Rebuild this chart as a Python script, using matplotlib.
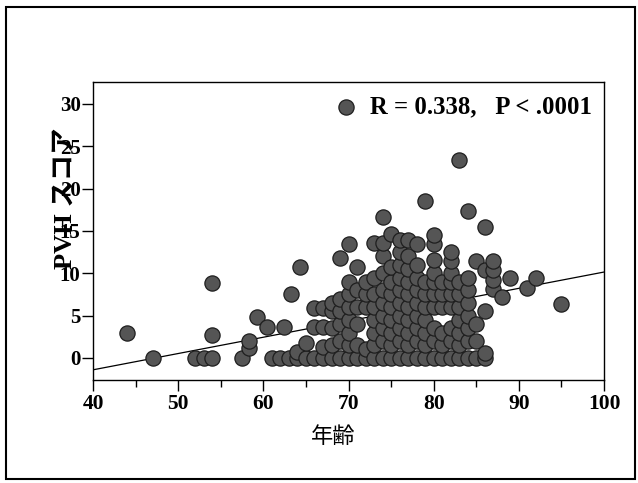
import matplotlib
matplotlib.use("Agg")
import matplotlib.pyplot as plt
import matplotlib.patches as patches
import numpy as np

plt.rcParams["font.family"] = ["Liberation Serif", "Noto Sans CJK JP", "DejaVu Sans"]

# ages -> PVH scores, one list per age column
columns = {
    44: [2.9],
    47: [0],
    52: [0],
    53: [0],
    54: [0, 2.7, 8.8],
    57.5: [0],
    58.3: [1.2, 2.0],
    59.3: [4.8],
    60.4: [3.7],
    61: [0],
    62: [0],
    62.4: [3.7],
    63: [0],
    63.3: [7.6],
    64: [0, 0.7],
    64.3: [10.7],
    65: [0, 1.8],
    66: [0, 3.7, 5.9],
    67: [0, 1.3, 3.7, 5.9],
    68: [0, 1.5, 3.5, 5.5, 6.5],
    69: [0, 2, 4, 5.5, 7, 11.8],
    70: [0, 1.5, 3, 4.5, 6, 7.5, 9, 13.5],
    71: [0, 1.5, 4, 6, 8, 10.7],
    72: [0, 1, 6, 7.5, 9],
    73: [0, 1.5, 3, 4.5, 6, 7.5, 9.5, 13.6],
    74: [0, 2, 3.5, 5, 6.5, 8, 10, 12, 13.6, 16.6],
    75: [0, 1.5, 3, 4.5, 6, 7.5, 9, 10.7, 14.7],
    76: [0, 2, 3.5, 5, 6.5, 8, 9.5, 11, 12.5, 13.9],
    77: [0, 1.5, 3, 4.5, 6, 7.5, 9, 10.5, 12, 13.9],
    78: [0, 2, 3.5, 5, 6.5, 8, 9.5, 11, 13.5],
    79: [0, 1.5, 3, 4.5, 6, 7.5, 9, 18.5],
    80: [0, 2, 3.5, 6, 7.5, 9, 10, 11.6, 13.5, 14.5],
    81: [0, 1.5, 3, 6, 7.5, 9],
    82: [0, 2, 3.5, 6, 7.5, 9, 10, 11.5, 12.5],
    83: [0, 1.5, 3, 4.5, 6, 7.5, 9, 23.4],
    84: [0, 2, 3.5, 5, 6.5, 8, 9.5, 17.4],
    85: [0, 2, 4, 11.5],
    86: [0, 0.6, 5.6, 10.4, 15.5],
    87: [8.2, 9.2, 10.4, 11.5],
    88: [7.2],
    89: [9.4],
    91: [8.3],
    92: [9.4],
    95: [6.4],
}
ages = [a for a, s in columns.items() for _ in s]
scores = [v for s in columns.values() for v in s]

# regression line ends, read at x = 40 and x = 100
fit_x = [40, 100]
fit_y = [-1.4, 10.15]

x_ticks = [40, 50, 60, 70, 80, 90, 100]
y_ticks = [0, 5, 10, 15, 20, 25, 30]
legend_text = "R = 0.338,   P < .0001"

fig = plt.figure(figsize=(6.38, 4.83), dpi=100)
ax = fig.add_axes([0.1458, 0.2133, 0.801, 0.617])

pts = ax.scatter(ages, scores, s=120, facecolor="#555555", edgecolor="#1e1e1e",
                 linewidth=0.9, zorder=3)
ax.plot(fit_x, fit_y, color="black", linewidth=0.9, zorder=2)

ax.set_xlim(40, 100)
ax.set_ylim(-2.6, 32.6)
ax.set_xticks(x_ticks)
ax.set_xticks(np.arange(45, 100, 10), minor=True)
ax.set_yticks(y_ticks)
ax.tick_params(axis="x", which="major", direction="out", length=8, width=1, pad=2,
               labelsize=15.5)
ax.tick_params(axis="x", which="minor", direction="out", length=5, width=1)
ax.tick_params(axis="y", direction="out", length=8, width=1, pad=1, labelsize=15)
for lbl in ax.get_xticklabels() + ax.get_yticklabels():
    lbl.set_fontweight("bold")
for sp in ax.spines.values():
    sp.set_linewidth(1.0)

# the scan has this label printed over the 20 / 25 tick labels
ax.text(-0.054, 0.61, "PVH スコア", transform=ax.transAxes, rotation=90,
        ha="center", va="center", fontsize=19, fontweight="bold")
ax.text(0.47, -0.19, "年齢", transform=ax.transAxes, ha="center", va="center",
        fontsize=16, family=["Noto Sans CJK JP"])

ax.legend([pts], [legend_text], loc="center left", bbox_to_anchor=(0.4716, 0.916),
          frameon=False, borderpad=0, borderaxespad=0, handlelength=1,
          handletextpad=0.45, prop={"size": 17.8, "weight": "bold"})

fig.patches.append(patches.Rectangle((6 / 638, 4 / 483), 629 / 638, 472 / 483,
                                     transform=fig.transFigure, fill=False,
                                     edgecolor="black", linewidth=1.5))

fig.savefig("out.png", dpi=100)
